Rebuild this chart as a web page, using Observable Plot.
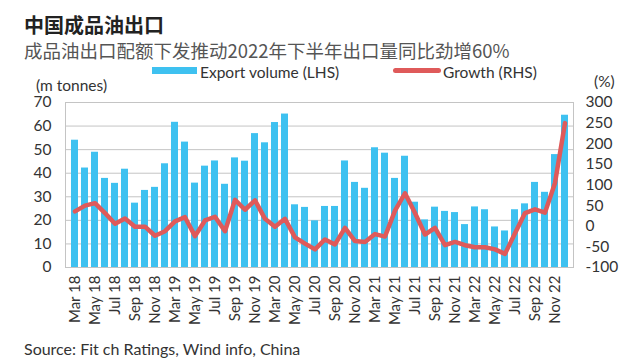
<!DOCTYPE html>
<html><head><meta charset="utf-8">
<script src="https://cdn.jsdelivr.net/npm/d3@7"></script>
<script src="https://cdn.jsdelivr.net/npm/@observablehq/plot@0.6"></script>
<style>
body{margin:0;background:#fff;font-family:Lato,"Noto Sans CJK SC",sans-serif;}
#wrap{position:relative;width:633px;height:362px;overflow:hidden;background:#fff;}
.abs{position:absolute;white-space:nowrap;line-height:1;z-index:2;}
#chart{position:absolute;left:0;top:76px;z-index:1;}
</style></head><body><div id="wrap">
<div id="chart"></div>
<div class="abs" style="left:24px;top:10px;font:bold 20px 'Noto Sans CJK SC';color:#222">中国成品油出口</div>
<div class="abs" style="left:24px;top:37px;font:18.5px 'Noto Sans CJK SC';color:#555">成品油出口配额下发推动2022年下半年出口量同比劲增60%</div>
<div class="abs" style="left:152px;top:67px;width:45px;height:7px;background:#3ec1f0"></div>
<div class="abs" style="left:200px;top:63px;font:15.5px Lato;color:#333">Export volume (LHS)</div>
<div class="abs" style="left:393px;top:68px;width:48px;height:5px;border-radius:3px;background:#df5a5a"></div>
<div class="abs" style="left:443px;top:63px;font:15.5px Lato;color:#333">Growth (RHS)</div>
<div class="abs" style="left:36px;top:76px;font:15.5px Lato;color:#333">(m tonnes)</div>
<div class="abs" style="left:594px;top:72px;font:15.5px Lato;color:#333">(%)</div>
<div class="abs" style="left:24px;top:339px;font:16px Lato;color:#333">Source: Fit ch Ratings, Wind info, China</div>
</div>
<script>
const months = ["Mar 18","Apr 18","May 18","Jun 18","Jul 18","Aug 18","Sep 18","Oct 18","Nov 18","Dec 18",
"Mar 19","Apr 19","May 19","Jun 19","Jul 19","Aug 19","Sep 19","Oct 19","Nov 19","Dec 19",
"Mar 20","Apr 20","May 20","Jun 20","Jul 20","Aug 20","Sep 20","Oct 20","Nov 20","Dec 20",
"Mar 21","Apr 21","May 21","Jun 21","Jul 21","Aug 21","Sep 21","Oct 21","Nov 21","Dec 21",
"Mar 22","Apr 22","May 22","Jun 22","Jul 22","Aug 22","Sep 22","Oct 22","Nov 22","Dec 22"];
const volume = [54,42.2,48.9,37.8,35.7,41.7,27.3,32.7,34,44,
61.6,53.2,35.8,43,45.2,35.3,46.5,45.1,56.8,52.9,
61.5,65.1,26.6,25.5,19.8,25.9,25.9,45.2,36.1,33.6,
50.8,48.5,37.8,47.2,27.7,20.2,25.6,23.8,23.3,18.2,
25.7,24.5,17.2,15.5,24.5,27,36.1,31.9,47.9,64.6];
const growth = [36,50,56,32,6,19,-1,-1,-23,-12,
12,22,-24,14,23,-12,64,40,63,18,
-1,18,-27,-42,-56,-32,-44,-4,-36,-38,
-19,-25,38,80,32,-20,-4,-46,-38,-46,
-51,-51,-56,-67,-17,32,41,33,105,250];
const xTicks = ["Mar 18","May 18","Jul 18","Sep 18","Nov 18","Mar 19","May 19","Jul 19","Sep 19","Nov 19",
"Mar 20","May 20","Jul 20","Sep 20","Nov 20","Mar 21","May 21","Jul 21","Sep 21","Nov 21",
"Mar 22","May 22","Jul 22","Sep 22","Nov 22"];
const leftTicks = [0,10,20,30,40,50,60,70];
const rightTicks = [-100,-50,0,50,100,150,200,250,300];

const gMin = -100, gMax = 300, yMax = 70;
const toY = g => (g - gMin) / (gMax - gMin) * yMax;
const fromY = y => Math.round(y / yMax * (gMax - gMin) + gMin);
const data = months.map((m, i) => ({m, v: volume[i], gy: toY(growth[i])}));

const chart = Plot.plot({
  width: 633, height: 259,
  marginLeft: 65, marginRight: 60, marginTop: 26, marginBottom: 68,
  style: {fontFamily: "Lato", fontSize: "14px", color: "#333", background: "transparent"},
  x: {domain: months, paddingInner: 0.3, paddingOuter: 0.15, label: null, axis: null},
  y: {domain: [0, yMax], label: null, axis: null},
  marks: [
    Plot.gridY(leftTicks, {stroke: "#c4c4c4", strokeOpacity: 1}),
    Plot.barY(data, {x: "m", y: "v", fill: "#3ec1f0"}),
    Plot.line(data, {x: "m", y: "gy", stroke: "#df5a5a", strokeWidth: 4.5}),
    Plot.frame({stroke: "#c4c4c4"}),
    Plot.axisY(leftTicks, {anchor: "left", tickSize: 0, tickPadding: 14, fontSize: 15.5, label: null}),
    Plot.axisY(rightTicks.map(toY), {anchor: "right", tickSize: 0, tickPadding: 12, fontSize: 15.5, label: null, tickFormat: d => String(fromY(d))}),
    Plot.axisX(xTicks, {tickRotate: -90, tickSize: 0, tickPadding: 8, fontSize: 15, label: null})
  ]
});
document.getElementById("chart").append(chart);
</script>
</body></html>
